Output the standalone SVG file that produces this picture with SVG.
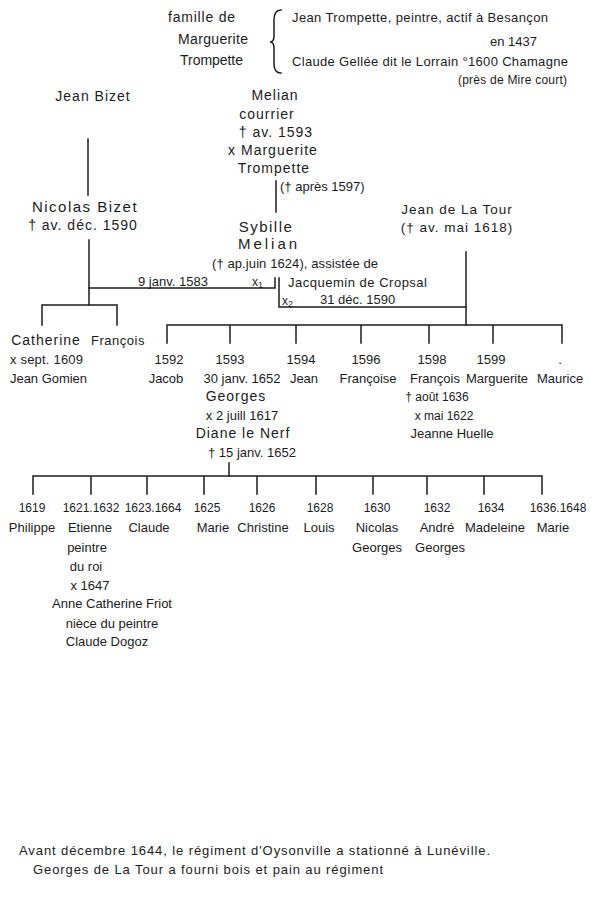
<svg xmlns="http://www.w3.org/2000/svg" width="594" height="900" viewBox="0 0 594 900">
<style>
text{font-family:"Liberation Sans","DejaVu Sans",sans-serif;font-size:13px;fill:#1c1c1c}
.m{text-anchor:middle}
.s{text-anchor:start}
.f{font-size:14px}
.b{font-size:14px;letter-spacing:1px}
.bm{font-size:13.5px;letter-spacing:1px}
.bb{font-size:15px;letter-spacing:1.5px}
.sm{font-size:12px}
.ln{stroke:#1c1c1c;stroke-width:1.5;fill:none;stroke-linecap:square}
</style>
<rect width="594" height="900" fill="#fff"/>

<g id="famille">
<text x="168" y="22" class="s f" textLength="67" lengthAdjust="spacing">famille de</text>
<text x="178" y="44" class="s f" textLength="70" lengthAdjust="spacing">Marguerite</text>
<text x="180" y="65" class="s f" textLength="63" lengthAdjust="spacing">Trompette</text>
<path class="ln" d="M281,10 Q274,10 274,20 L274,36 Q274,42 270,42 Q274,42 274,48 L274,64 Q274,73 281,73"/>
<text x="292" y="22" class="s" textLength="256" lengthAdjust="spacing">Jean Trompette, peintre, actif à Besançon</text>
<text x="490" y="46" class="s">en 1437</text>
<text x="292" y="66" class="s" textLength="276" lengthAdjust="spacing">Claude Gellée dit le Lorrain °1600 Chamagne</text>
<text x="458" y="84" class="s sm" textLength="109" lengthAdjust="spacing">(près de Mire court)</text>
</g>

<g id="jean-bizet">
<text x="93" y="101" class="m b">Jean Bizet</text>
</g>

<g id="melian">
<text x="275" y="100" class="m b">Melian</text>
<text x="267" y="119" class="m b">courrier</text>
<text x="276" y="137" class="m b">† av. 1593</text>
<text x="273" y="155" class="m b">x Marguerite</text>
<text x="274" y="173" class="m b">Trompette</text>
<text x="280" y="191" class="s">(† après 1597)</text>
</g>

<g id="nicolas-bizet">
<text x="85" y="212" class="m bb">Nicolas Bizet</text>
<text x="83" y="230" class="m b">† av. déc. 1590</text>
</g>

<g id="sybille-melian">
<text x="266" y="232" class="m bb">Sybille</text>
<text x="269" y="249" class="m bb" style="letter-spacing:3px">Melian</text>
<text x="212" y="268" class="s" textLength="166" lengthAdjust="spacing">(† ap.juin 1624), assistée de</text>
</g>

<g id="jean-de-la-tour">
<text x="457" y="214" class="m bm">Jean de La Tour</text>
<text x="457" y="232" class="m bm">(† av. mai 1618)</text>
</g>

<g id="jacquemin">
<text x="288" y="287" class="s" textLength="139" lengthAdjust="spacing">Jacquemin de Cropsal</text>
</g>

<g id="connectors">
<path class="ln" d="M88,139 V195"/>
<path class="ln" d="M276,181 V212"/>
<path class="ln" d="M89,240 V305"/>
<path class="ln" d="M89,288 H275 V278"/>
<path class="ln" d="M279,278 V307 H466"/>
<path class="ln" d="M466,252 V325"/>
<path class="ln" d="M42,325 V305 H117 V325"/>
<path class="ln" d="M167,343 V325 H562 V343 M230,325 V343 M296,325 V343 M361,325 V343 M429,325 V343 M493,325 V343"/>
<path class="ln" d="M229,463 V476"/>
<path class="ln" d="M33,494 V476 H542 V494 M91,476 V494 M147,476 V494 M204,476 V494 M257,476 V494 M316,476 V494 M373,476 V494 M427,476 V494 M484,476 V494"/>
<text x="138" y="286" class="s">9 janv. 1583</text>
<text x="252" y="286" class="s sm">x<tspan font-size="9" dy="2">1</tspan></text>
<text x="282" y="305" class="s sm">x<tspan font-size="9" dy="2">2</tspan></text>
<text x="320" y="304" class="s">31 déc. 1590</text>
</g>

<g id="catherine">
<text x="46" y="345" class="m b">Catherine</text>
<text x="10" y="364" class="s" textLength="73" lengthAdjust="spacing">x sept. 1609</text>
<text x="10" y="383" class="s" textLength="77" lengthAdjust="spacing">Jean Gomien</text>
</g>
<g id="francois-bizet">
<text x="118" y="345" class="m" style="letter-spacing:0.5px">François</text>
</g>

<g id="jacob">
<text x="169" y="364" class="m">1592</text>
<text x="166" y="383" class="m">Jacob</text>
</g>
<g id="georges">
<text x="230" y="364" class="m">1593</text>
<text x="242" y="383" class="m">30 janv. 1652</text>
<text x="236" y="401" class="m b">Georges</text>
<text x="242" y="420" class="m">x 2 juill 1617</text>
<text x="243" y="438" class="m b">Diane le Nerf</text>
<text x="252" y="457" class="m">† 15 janv. 1652</text>
</g>
<g id="jean">
<text x="301" y="364" class="m">1594</text>
<text x="304" y="383" class="m">Jean</text>
</g>
<g id="francoise">
<text x="366" y="364" class="m">1596</text>
<text x="368" y="383" class="m">Françoise</text>
</g>
<g id="francois">
<text x="432" y="364" class="m">1598</text>
<text x="435" y="383" class="m">François</text>
<text x="437" y="401" class="m sm">† août 1636</text>
<text x="444" y="420" class="m sm">x mai 1622</text>
<text x="452" y="438" class="m">Jeanne Huelle</text>
</g>
<g id="marguerite">
<text x="491" y="364" class="m">1599</text>
<text x="497" y="383" class="m">Marguerite</text>
</g>
<g id="maurice">
<text x="560" y="364" class="m">.</text>
<text x="560" y="383" class="m">Maurice</text>
</g>

<g id="philippe">
<text x="32" y="512" class="m sm">1619</text>
<text x="32" y="532" class="m">Philippe</text>
</g>
<g id="etienne">
<text x="91" y="512" class="m sm">1621.1632</text>
<text x="90" y="532" class="m">Etienne</text>
<text x="87" y="552" class="m">peintre</text>
<text x="86" y="571" class="m">du roi</text>
<text x="90" y="590" class="m">x 1647</text>
<text x="112" y="608" class="m">Anne Catherine Friot</text>
<text x="112" y="628" class="m">nièce du peintre</text>
<text x="107" y="646" class="m">Claude Dogoz</text>
</g>
<g id="claude">
<text x="153" y="512" class="m sm">1623.1664</text>
<text x="149" y="532" class="m">Claude</text>
</g>
<g id="marie-1625">
<text x="207" y="512" class="m sm">1625</text>
<text x="213" y="532" class="m">Marie</text>
</g>
<g id="christine">
<text x="262" y="512" class="m sm">1626</text>
<text x="263" y="532" class="m">Christine</text>
</g>
<g id="louis">
<text x="320" y="512" class="m sm">1628</text>
<text x="319" y="532" class="m">Louis</text>
</g>
<g id="nicolas-georges">
<text x="377" y="512" class="m sm">1630</text>
<text x="377" y="532" class="m">Nicolas</text>
<text x="377" y="552" class="m">Georges</text>
</g>
<g id="andre-georges">
<text x="437" y="512" class="m sm">1632</text>
<text x="437" y="532" class="m">André</text>
<text x="440" y="552" class="m">Georges</text>
</g>
<g id="madeleine">
<text x="491" y="512" class="m sm">1634</text>
<text x="495" y="532" class="m">Madeleine</text>
</g>
<g id="marie-1636">
<text x="558" y="512" class="m sm">1636.1648</text>
<text x="553" y="532" class="m">Marie</text>
</g>

<g id="note">
<text x="19" y="855" class="s" textLength="471" lengthAdjust="spacing">Avant décembre 1644, le régiment d'Oysonville a stationné à Lunéville.</text>
<text x="33" y="874" class="s" textLength="350" lengthAdjust="spacing">Georges de La Tour a fourni bois et pain au régiment</text>
</g>
</svg>
